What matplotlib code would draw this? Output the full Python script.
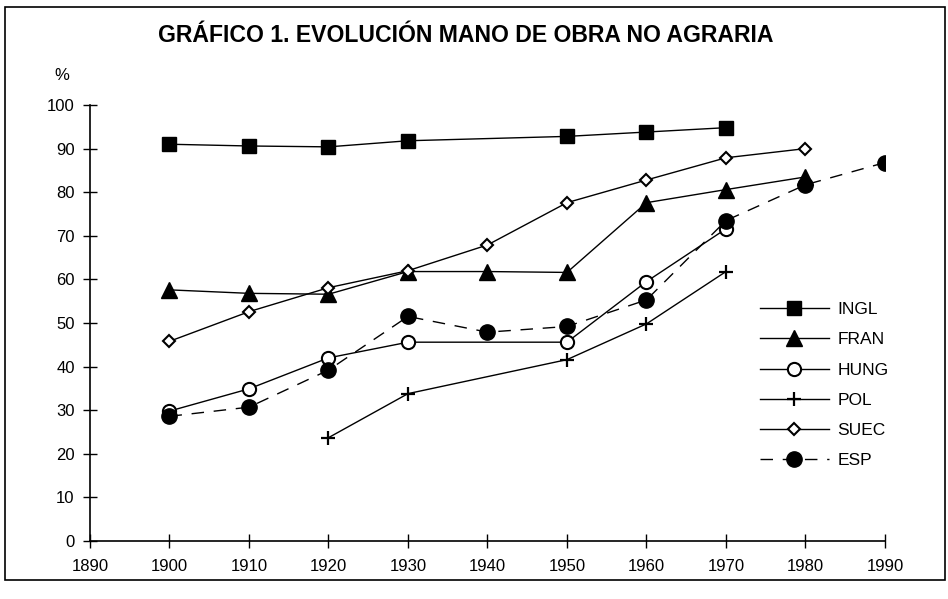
import matplotlib
matplotlib.use("Agg")
import matplotlib.pyplot as plt
from matplotlib.patches import Rectangle

plt.rcParams['font.family'] = ['Liberation Sans', 'DejaVu Sans']

# ---- data ----
years_ingl = [1900, 1910, 1920, 1930, 1950, 1960, 1970]
ingl = [91, 90.6, 90.4, 91.8, 92.8, 93.8, 94.8]

years_fran = [1900, 1910, 1920, 1930, 1940, 1950, 1960, 1970, 1980]
fran = [57.6, 56.8, 56.6, 61.8, 61.8, 61.6, 77.6, 80.6, 83.5]

years_hung = [1900, 1910, 1920, 1930, 1950, 1960, 1970]
hung = [29.8, 34.9, 42.0, 45.6, 45.6, 59.5, 71.6]

years_pol = [1920, 1930, 1950, 1960, 1970]
pol = [23.7, 33.8, 41.6, 49.8, 61.8]

years_suec = [1900, 1910, 1920, 1930, 1940, 1950, 1960, 1970, 1980]
suec = [45.8, 52.6, 58.1, 62.0, 67.9, 77.6, 82.8, 87.9, 90.0]

years_esp = [1900, 1910, 1920, 1930, 1940, 1950, 1960, 1970, 1980, 1990]
esp = [28.6, 30.7, 39.2, 51.5, 47.9, 49.2, 55.3, 73.5, 81.7, 86.8]

xticks = list(range(1890, 2000, 10))
yticks = list(range(0, 110, 10))
title = "GRÁFICO 1. EVOLUCIÓN MANO DE OBRA NO AGRARIA"

W, H = 948, 599
fig = plt.figure(figsize=(W / 100, H / 100), dpi=100)
fig.patch.set_facecolor('white')

ax = fig.add_axes([90 / W, 1 - 541 / H, (885 - 90) / W, (541 - 105) / H])
ax.set_facecolor('white')

lw = 1.0
ax.plot(years_ingl, ingl, color='black', lw=lw, marker='s', ms=10.5,
        mfc='black', mec='black', label='INGL')
ax.plot(years_fran, fran, color='black', lw=lw, marker='^', ms=11,
        mfc='black', mec='black', label='FRAN')
ax.plot(years_hung, hung, color='black', lw=lw, marker='o', ms=9.5,
        mfc='white', mec='black', mew=1.5, label='HUNG')
ax.plot(years_pol, pol, color='black', lw=lw, marker='+', ms=10,
        mew=1.6, label='POL')
ax.plot(years_suec, suec, color='black', lw=lw, marker='D', ms=6.5,
        mfc='white', mec='black', mew=1.5, label='SUEC')
ax.plot(years_esp, esp, color='black', lw=lw, ls=(0, (9, 7)), marker='o',
        ms=11, mfc='black', mec='black', label='ESP')

ax.set_xlim(1890, 1990)
ax.set_ylim(0, 100)
ax.set_xticks(xticks)
ax.set_yticks(yticks)
ax.tick_params(direction='inout', length=10, width=1, labelsize=12,
               colors='black')
ax.tick_params(axis='x', pad=8)
ax.tick_params(axis='y', pad=6)
for s in ['top', 'right']:
    ax.spines[s].set_visible(False)
for s in ['left', 'bottom']:
    ax.spines[s].set_linewidth(1.2)
    ax.spines[s].set_color('black')

fig.text(466 / W, 1 - 35 / H, title, ha='center', va='center',
         fontsize=16.6, fontweight='bold')
fig.text(62 / W, 1 - 76 / H, '%', ha='center', va='center', fontsize=12)

leg = ax.legend(loc='upper left', bbox_to_anchor=(760 / W, 1 - 302 / H),
                bbox_transform=fig.transFigure, frameon=False, fontsize=12.5,
                handlelength=3.95, handletextpad=0.5, labelspacing=0.87,
                borderpad=0, borderaxespad=0, numpoints=1)

fig.patches.append(Rectangle((5 / W, 1 - 580 / H), (945 - 5) / W, (580 - 7) / H,
                             transform=fig.transFigure, fill=False,
                             edgecolor='black', lw=1.2))

fig.savefig('out.png', dpi=100, facecolor='white')
